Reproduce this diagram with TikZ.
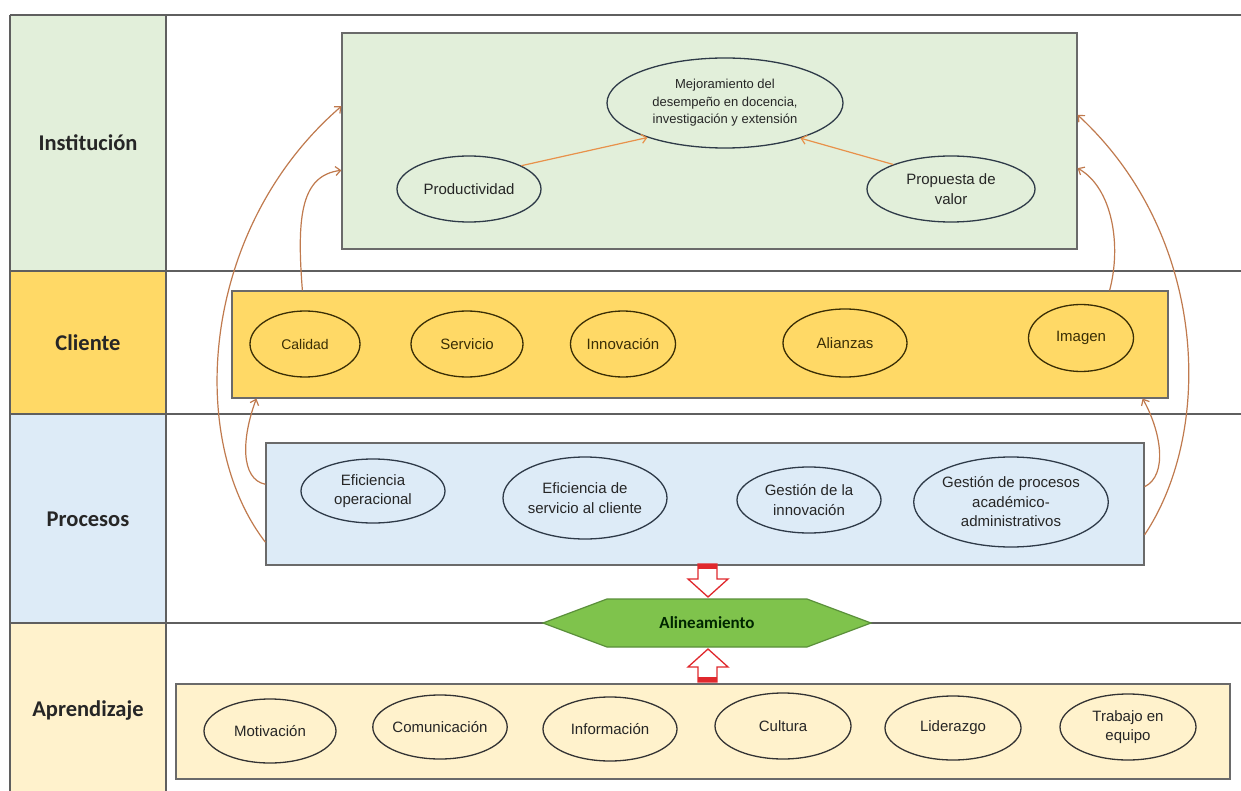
\documentclass[tikz,border=0pt]{standalone}
\usepackage{fontspec}
\setmainfont{Liberation Sans}
\newfontfamily\labfont{Carlito}
\usetikzlibrary{arrows.meta,calc,shapes.geometric}
\definecolor{instfill}{HTML}{E2EFDA}
\definecolor{clifill}{HTML}{FFD966}
\definecolor{procfill}{HTML}{DDEBF7}
\definecolor{aprfill}{HTML}{FFF2CC}
\definecolor{framecol}{HTML}{5F5F5F}
\definecolor{boxline}{HTML}{6A6A6A}
\definecolor{arrcol}{HTML}{C07A4E}
\definecolor{arrcolb}{HTML}{E8914A}
\definecolor{hexfill}{HTML}{7FC34C}
\definecolor{hexline}{HTML}{5A8F3A}
\definecolor{ellcol}{HTML}{2E3A48}
\definecolor{ellcolc}{HTML}{3A2E05}
\definecolor{redarr}{HTML}{E0282D}
\tikzset{
  bandlab/.style={font=\labfont\bfseries\fontsize{22.5}{26}\selectfont, text=black!85},
  bigbox/.style={draw=boxline, line width=1.2pt, inner sep=0pt},
  ell/.style={ellipse, draw=ellcol, line width=1.3pt, inner sep=0pt, align=center,
     font=\fontsize{15}{19.5}\selectfont, text=black!85},
  ellc/.style={ell, draw=ellcolc, text=ellcolc},
  carr/.style={draw=arrcol, line width=1.2pt, -{Straight Barb[length=5pt,width=9pt]}},
  iarr/.style={draw=arrcolb, line width=1.2pt, -{Straight Barb[length=5pt,width=9pt]}},
  framel/.style={draw=framecol, line width=1.6pt},
}
\begin{document}
\begin{tikzpicture}[x=1pt,y=-1pt]
\useasboundingbox (0,0) rectangle (1241,791);
\fill[white] (0,0) rectangle (1241,791);
% left column cells
\fill[instfill] (10,15) rectangle (166,271);
\fill[clifill] (10,271) rectangle (166,414);
\fill[procfill] (10,414) rectangle (166,623);
\fill[aprfill] (10,623) rectangle (166,791);
% frame lines
\draw[framel] (10,15) -- (1241,15);
\draw[framel] (10,271) -- (1241,271);
\draw[framel] (10,414) -- (1241,414);
\draw[framel] (10,623) -- (1241,623);
\draw[framel] (10,15) -- (10,791);
\draw[framel] (166,15) -- (166,791);
% band labels
\node[bandlab] (lInst) at (88,143) {Institución};
\node[bandlab] (lCli) at (88,343) {Cliente};
\node[bandlab] (lProc) at (88,519) {Procesos};
\node[bandlab] (lApr) at (88,711) {Aprendizaje};
% big boxes
\node[bigbox, fill=instfill, minimum width=735pt, minimum height=216pt] (inst) at (709.5,141) {};
\node[bigbox, fill=clifill, minimum width=936pt, minimum height=107pt] (cli) at (700,344.5) {};
\node[bigbox, fill=procfill, minimum width=878pt, minimum height=122pt] (proc) at (705,504) {};
\node[bigbox, fill=aprfill, minimum width=1054pt, minimum height=95pt] (apr) at (703,731.5) {};
% Institucion ellipses
\node[ell, minimum width=236pt, minimum height=90pt, font=\fontsize{13}{17.5}\selectfont] (mej) at (725,103) {Mejoramiento del\\desempeño en docencia,\\investigación y extensión};
\node[ell, minimum width=144pt, minimum height=66pt] (prod) at (469,189) {Productividad};
\node[ell, minimum width=168pt, minimum height=66pt] (prop) at (951,189) {Propuesta de\\valor};
\draw[iarr] (prod.24) -- (mej.204);
\draw[iarr] (prop.157) -- (mej.335);
% Cliente ellipses
\node[ellc, minimum width=110pt, minimum height=66pt, font=\fontsize{14}{17}\selectfont] (cal) at (305,344) {Calidad};
\node[ellc, minimum width=112pt, minimum height=66pt] (ser) at (467,344) {Servicio};
\node[ellc, minimum width=105pt, minimum height=66pt] (inn) at (623,344) {Innovación};
\node[ellc, minimum width=124pt, minimum height=68pt] (ali) at (845,343) {Alianzas};
\node[ellc, minimum width=105pt, minimum height=67pt] (ima) at (1081,338) {Imagen};
% Procesos ellipses
\node[ell, minimum width=144pt, minimum height=64pt] (efo) at (373,491) {Eficiencia\\operacional};
\node[ell, minimum width=164pt, minimum height=82pt] (efs) at (585,498) {Eficiencia de\\servicio al cliente};
\node[ell, minimum width=144pt, minimum height=66pt] (gin) at (809,500) {Gestión de la\\innovación};
\node[ell, minimum width=182pt, minimum height=90pt] (gpa) at (1011,502) {Gestión de procesos\\académico-\\administrativos};
% Aprendizaje ellipses
\node[ell, draw=black!80, minimum width=132pt, minimum height=64pt] (mot) at (270,731) {Motivación};
\node[ell, draw=black!80, minimum width=128pt, minimum height=64pt] (com) at (440,727) {Comunicación};
\node[ell, draw=black!80, minimum width=134pt, minimum height=64pt] (inf) at (610,729) {Información};
\node[ell, draw=black!80, minimum width=136pt, minimum height=66pt] (cul) at (783,726) {Cultura};
\node[ell, draw=black!80, minimum width=136pt, minimum height=64pt] (lid) at (953,728) {Liderazgo};
\node[ell, draw=black!80, minimum width=136pt, minimum height=66pt] (tra) at (1128,727) {Trabajo en\\equipo};
% curved arrows
\draw[carr] ($(proc.north west)!0.81!(proc.south west)$) .. controls +(-79,-102) and +(-142,123) .. ($(inst.north west)!0.34!(inst.south west)$);
\draw[carr] ($(cli.north west)+(71,0)$) .. controls +(-6,-75) and +(-40,5) .. ($(inst.north west)!0.635!(inst.south west)$);
\draw[carr] ($(proc.north west)!0.34!(proc.south west)$) .. controls +(-25,-5) and +(-15,40) .. ($(cli.south west)+(25,0)$);
\draw[carr] ($(proc.north east)!0.75!(proc.south east)$) .. controls +(70,-105) and +(130,120) .. ($(inst.north east)!0.38!(inst.south east)$);
\draw[carr] ($(cli.north east)+(-59,0)$) .. controls +(12,-45) and +(35,20) .. ($(inst.north east)!0.625!(inst.south east)$);
\draw[carr] ($(proc.north east)!0.36!(proc.south east)$) .. controls +(24,-12) and +(18,32) .. ($(cli.south east)+(-26,0)$);
% alignment hexagon
\coordinate (alc) at (707,623);
\begin{scope}[shift={(alc)}]
\draw[fill=hexfill, draw=hexline, line width=1.2pt] (-164,0) -- (-100,-24) -- (100,-24) -- (164,0) -- (100,24) -- (-100,24) -- cycle;
% down arrow
\draw[redarr, fill=white, line width=1.3pt, line join=miter] (-9,-59) -- (10,-59) -- (10,-44) -- (21,-44) -- (1,-26) -- (-19,-44) -- (-9,-44) -- cycle;
\fill[redarr] (-9,-59) rectangle (10,-54);
% up arrow
\draw[redarr, fill=white, line width=1.3pt, line join=miter] (-9,59) -- (10,59) -- (10,44) -- (21,44) -- (1,26) -- (-19,44) -- (-9,44) -- cycle;
\fill[redarr] (-9,59) rectangle (10,54);
\end{scope}
\node[font=\labfont\bfseries\fontsize{17}{20}\selectfont, text=black!85!green] (al) at (alc) {Alineamiento};
\end{tikzpicture}
\end{document}
